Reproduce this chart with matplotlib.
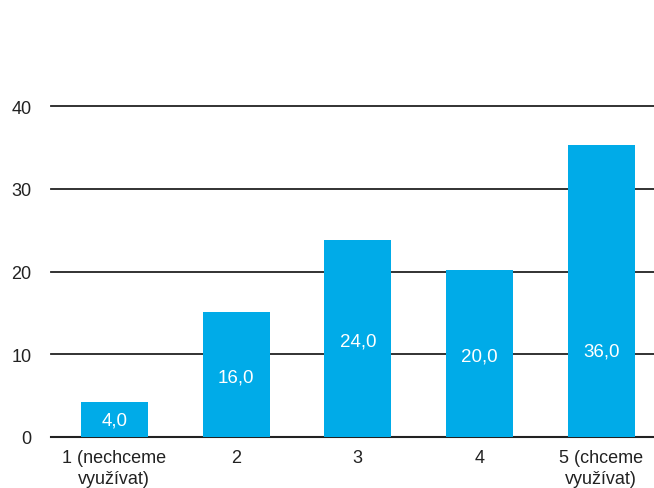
import matplotlib.pyplot as plt

plt.rcParams['font.family'] = ['Liberation Sans', 'DejaVu Sans']

categories = ['1 (nechceme\nvyužívat)', '2', '3', '4', '5 (chceme\nvyužívat)']
heights = [4.2, 15.1, 23.8, 20.2, 35.3]
labels = ['4,0', '16,0', '24,0', '20,0', '36,0']
label_y = [2.0, 7.2, 11.6, 9.8, 10.4]
yticks = [0, 10, 20, 30, 40]

W, H = 654, 489
fig = plt.figure(figsize=(W / 100, H / 100), dpi=100)
ax = fig.add_axes([51 / W, 51 / H, (5.02 * 121.75) / W, 331 / H])

x = range(len(categories))
ax.bar(x, heights, width=0.55, color='#00ABE8', zorder=3)
for i, (t, yy) in enumerate(zip(labels, label_y)):
    ax.text(i, yy, t, color='white', ha='center', va='center', fontsize=13.5, zorder=4)

ax.set_xlim(-0.52, 4.5)
ax.set_ylim(0, 40)
ax.set_yticks(yticks)
ax.set_xticks(list(x))
ax.set_xticklabels(categories, fontsize=13, color='#222222', linespacing=1.3)
ax.tick_params(axis='y', length=0, pad=14, labelsize=13, labelcolor='#222222')
ax.tick_params(axis='x', length=0, pad=9)
ax.grid(axis='y', color='#222222', linewidth=1.3, zorder=1)
for gl in ax.get_ygridlines():
    gl.set_clip_on(False)
for s in ax.spines.values():
    s.set_visible(False)
ax.axhline(0, color='#222222', linewidth=1.5, zorder=2, clip_on=False)

fig.savefig('out.png', dpi=100)
